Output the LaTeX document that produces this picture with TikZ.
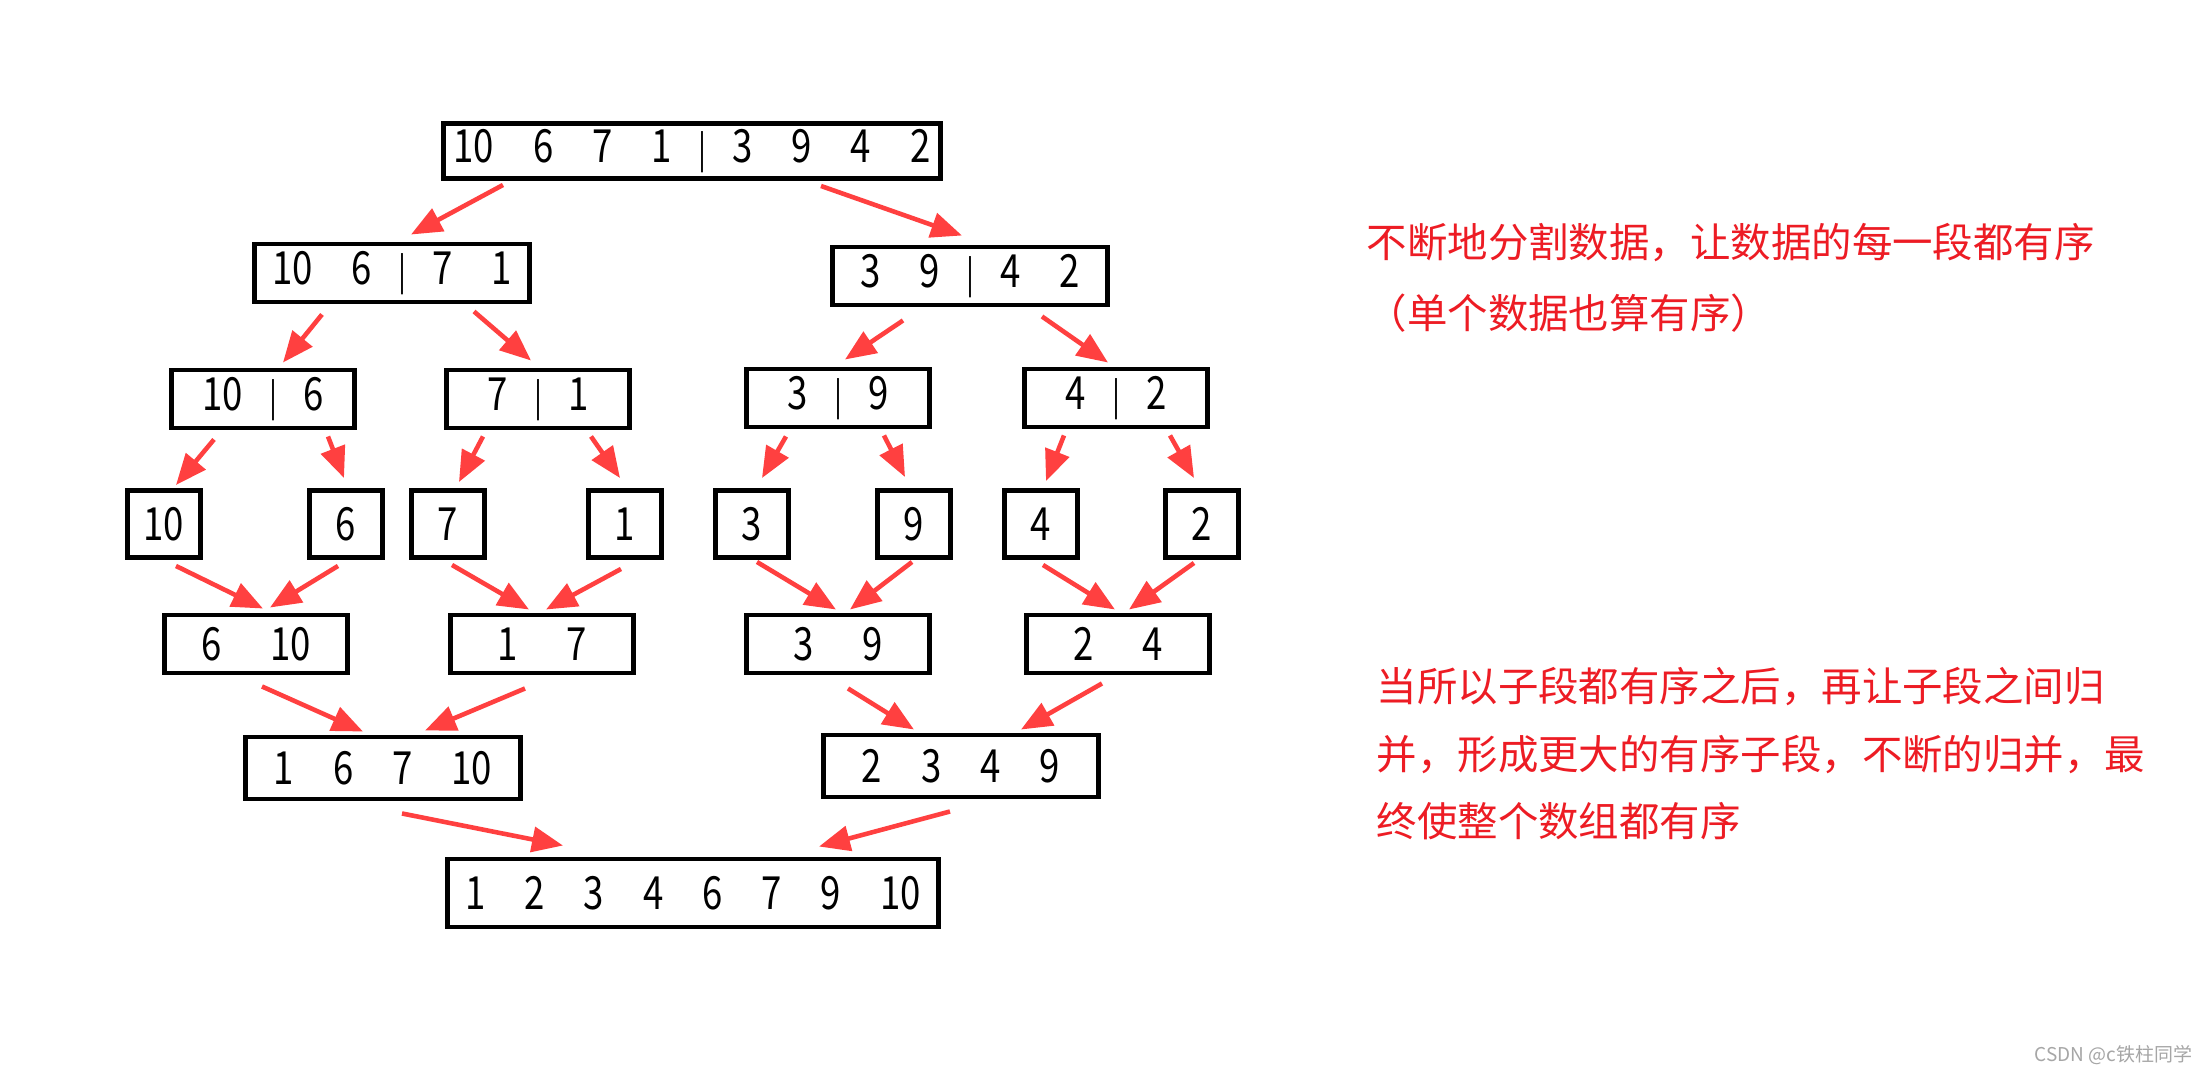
\documentclass[tikz,border=0pt]{standalone}
\usepackage{fontspec}
\setmainfont{Noto Sans CJK SC}
\newfontfamily\numfont[FakeStretch=0.8]{Noto Sans CJK SC}
\usepackage{xcolor}
\usetikzlibrary{calc,arrows.meta,positioning}

\definecolor{arrowred}{RGB}{255,64,64}
\definecolor{textred}{RGB}{237,28,36}
\newcommand{\gap}{\hspace{0.39cm}}
\newcommand{\cut}{\hspace{0.26cm}{\fontsize{10.5}{12}\selectfont|}\hspace{0.26cm}}

\begin{document}
\begin{tikzpicture}[
    x=0.01cm,
    y=-0.01cm,
    >={Triangle[length=0.31cm,width=0.25cm]},
    box/.style={draw,line width=1.4pt,inner sep=0pt,
        font=\numfont\fontsize{13}{14}\selectfont,minimum height=0.58cm},
    wide/.style={box,minimum width=2.74cm},
    half/.style={box,minimum width=1.82cm},
    single/.style={box,minimum width=0.73cm,minimum height=0.67cm},
    merge/.style={->,arrowred,line width=1.3pt}
]

% Canvas
\fill[white] (0,0) rectangle (2208,1076);
\useasboundingbox (0,0) rectangle (2208,1076);

% Splitting
\node[box,minimum width=4.97cm,minimum height=0.55cm] (all) at (692,151)
    {10\gap 6\gap 7\gap 1\cut 3\gap 9\gap 4\gap 2};

\node[wide] (left) at (392,273) {10\gap 6\cut 7\gap 1};
\node[wide] (right) at (970,276) {3\gap 9\cut 4\gap 2};

\node[half] (s106) at (263,399) {10\cut 6};
\node[half] (s71) at (538,399) {7\cut 1};
\node[half] (s39) at (838,398) {3\cut 9};
\node[half] (s42) at (1116,398) {4\cut 2};

\node[single] (n10) at (164,524) {10};
\node[single] (n6) at (346,524) {6};
\node[single] (n7) at (448,524) {7};
\node[single] (n1) at (625,524) {1};
\node[single] (n3) at (752,524) {3};
\node[single] (n9) at (914,524) {9};
\node[single] (n4) at (1041,524) {4};
\node[single] (n2) at (1202,524) {2};

% Merging
\node[half] (m610) at (256,644) {6\gap\hspace{0.1cm}10};
\node[half] (m17) at (542,644) {1\gap\hspace{0.1cm}7};
\node[half] (m39) at (838,644) {3\gap\hspace{0.1cm}9};
\node[half] (m24) at (1118,644) {2\gap\hspace{0.1cm}4};

\node[wide,minimum height=0.62cm] (h1) at (383,768) {1\gap 6\gap 7\gap 10};
\node[wide,minimum height=0.62cm] (h2) at (961,766) {2\gap 3\gap 4\gap 9};

\node[box,minimum width=4.9cm,minimum height=0.68cm] (sorted) at (693,893)
    {1\gap 2\gap 3\gap 4\gap 6\gap 7\gap 9\gap 10};

% Split arrows
\draw[merge] ($(all.south)+(-189,4)$) -- ($(left.north)+(19,-7)$);
\draw[merge] ($(all.south)+(129,5)$) -- ($(right.north)+(-8,-9)$);
\draw[merge] ($(left.south)+(-70,10)$) -- ($(s106.north)+(20,-5)$);
\draw[merge] ($(left.south)+(82,7)$) -- ($(s71.north)+(-7,-7)$);
\draw[merge] ($(right.south)+(-67,13)$) -- ($(s39.north)+(7,-7)$);
\draw[merge] ($(right.south)+(72,9)$) -- ($(s42.north)+(-8,-4)$);
\draw[merge] ($(s106.south)+(-49,9)$) -- ($(n10.north)+(12,-3)$);
\draw[merge] ($(s106.south)+(65,6)$) -- ($(n6.north)+(-2,-10)$);
\draw[merge] ($(s71.south)+(-55,6)$) -- ($(n7.north)+(11,-6)$);
\draw[merge] ($(s71.south)+(53,6)$) -- ($(n1.north)+(-5,-10)$);
\draw[merge] ($(s39.south)+(-52,7)$) -- ($(n3.north)+(10,-10)$);
\draw[merge] ($(s39.south)+(46,6)$) -- ($(n9.north)+(-9,-11)$);
\draw[merge] ($(s42.south)+(-52,6)$) -- ($(n4.north)+(5,-7)$);
\draw[merge] ($(s42.south)+(54,6)$) -- ($(n2.north)+(-8,-10)$);

% Merge arrows
\draw[merge] ($(n10.south)+(12,6)$) -- ($(m610.north)+(7,-4)$);
\draw[merge] ($(n6.south)+(-8,6)$) -- ($(m610.north)+(14,-5)$);
\draw[merge] ($(n7.south)+(4,5)$) -- ($(m17.north)+(-13,-3)$);
\draw[merge] ($(n1.south)+(-4,9)$) -- ($(m17.north)+(4,-3)$);
\draw[merge] ($(n3.south)+(5,2)$) -- ($(m39.north)+(-2,-3)$);
\draw[merge] ($(n9.south)+(-2,2)$) -- ($(m39.north)+(12,-3)$);
\draw[merge] ($(n4.south)+(2,5)$) -- ($(m24.north)+(-3,-3)$);
\draw[merge] ($(n2.south)+(-8,3)$) -- ($(m24.north)+(11,-3)$);
\draw[merge] ($(m610.south)+(6,11)$) -- ($(h1.north)+(-20,-3)$);
\draw[merge] ($(m17.south)+(-17,13)$) -- ($(h1.north)+(42,-4)$);
\draw[merge] ($(m39.south)+(10,13)$) -- ($(h2.north)+(-47,-3)$);
\draw[merge] ($(m24.south)+(-16,8)$) -- ($(h2.north)+(60,-3)$);
\draw[merge] ($(h1.south)+(19,12)$) -- ($(sorted.north)+(-130,-11)$);
\draw[merge] ($(h2.south)+(-11,12)$) -- ($(sorted.north)+(126,-10)$);

% Notes
\node[textred,anchor=north west,align=left,inner sep=0pt,
    font=\fontsize{11.5}{20.2}\selectfont] (splitnote) at (1366,223)
    {不断地分割数据，让数据的每一段都有序\\（单个数据也算有序）};
\node[textred,anchor=north west,align=left,inner sep=0pt,
    font=\fontsize{11.5}{19.1}\selectfont] (mergenote) at (1376,667)
    {当所以子段都有序之后，再让子段之间归\\并，形成更大的有序子段，不断的归并，最\\终使整个数组都有序};

\node[gray!70,anchor=east,inner sep=0pt,font=\fontsize{5.4}{6}\selectfont]
    (mark) at (2193,1055) {CSDN @c铁柱同学};

\end{tikzpicture}
\end{document}
